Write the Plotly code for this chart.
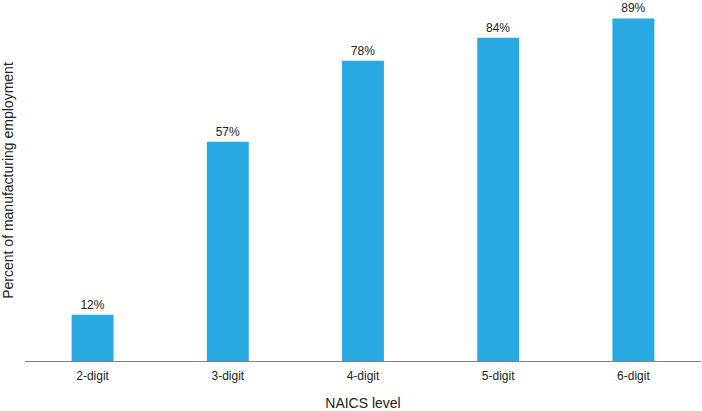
import plotly.graph_objects as go

categories = ["2-digit", "3-digit", "4-digit", "5-digit", "6-digit"]
values = [12, 57, 78, 84, 89]
labels = ["12%", "57%", "78%", "84%", "89%"]

fig = go.Figure(go.Bar(
    x=categories, y=values, text=labels, textposition="outside",
    marker=dict(color="#29A9E1", line=dict(width=0)),
    textfont=dict(size=12, color="#222222"), cliponaxis=False,
))
fig.update_layout(
    width=702, height=411,
    margin=dict(l=25, r=1, t=0, b=50),
    paper_bgcolor="white", plot_bgcolor="white",
    font=dict(family="Liberation Sans, Arial, sans-serif", size=12, color="#222222"),
    bargap=0.69, showlegend=False,
)
fig.update_xaxes(showline=True, linecolor="#808080", linewidth=1, ticks="",
                 ticklabelstandoff=4,
                 title=dict(text="NAICS level", standoff=18), tickfont=dict(size=12))
fig.update_yaxes(range=[0, 93.8], showticklabels=False, showgrid=False, zeroline=False,
                 title=dict(text="Percent of manufacturing employment", standoff=8))
fig.write_html("out.html")
